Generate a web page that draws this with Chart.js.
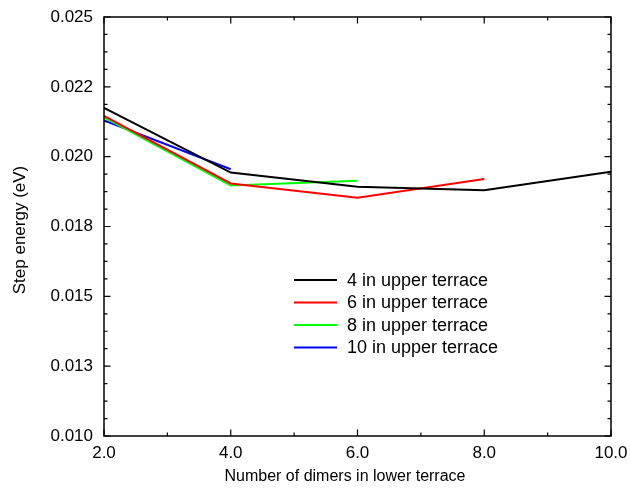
<!DOCTYPE html>
<html>
<head>
<meta charset="utf-8">
<script src="https://cdn.jsdelivr.net/npm/chart.js@4"></script>
<style>
  html, body { margin: 0; padding: 0; background: #fff; }
  #wrap { width: 630px; height: 488px; }
</style>
</head>
<body>
<div id="wrap"><canvas id="c" width="630" height="488"></canvas></div>
<script>
// ---- data ----
const dimers4 = [2, 4, 6, 8, 10];
const energy4 = [0.02175, 0.01943, 0.01892, 0.01880, 0.01946];
const dimers6 = [2, 4, 6, 8];
const energy6 = [0.02146, 0.01904, 0.01853, 0.01920];
const dimers8 = [2, 4, 6];
const energy8 = [0.02141, 0.01897, 0.01914];
const dimers10 = [2, 4];
const energy10 = [0.02130, 0.01955];
const seriesLabels = ["4 in upper terrace", "6 in upper terrace", "8 in upper terrace", "10 in upper terrace"];
const xTitle = "Number of dimers in lower terrace";
const yTitle = "Step energy (eV)";

const xTickValues = [2, 4, 6, 8, 10];
const xTickLabels = ["2.0", "4.0", "6.0", "8.0", "10.0"];
const xMinorValues = [3, 5, 7, 9];
const yTickValues = [0.0100, 0.0125, 0.0150, 0.0175, 0.0200, 0.0225, 0.0250];
const yTickLabels = ["0.010", "0.013", "0.015", "0.018", "0.020", "0.022", "0.025"];
const yMinorValues = [];
for (let i = 0; i < yTickValues.length - 1; i++) {
  for (let k = 1; k <= 3; k++) yMinorValues.push(yTickValues[i] + k * 0.000625);
}

const FONT = "'Liberation Sans', Arial, Helvetica, sans-serif";
const toPts = (xs, ys) => xs.map((x, i) => ({ x: x, y: ys[i] }));

const colors = ["#000000", "#ff0000", "#00ff00", "#0000ff"];
const seriesX = [dimers4, dimers6, dimers8, dimers10];
const seriesY = [energy4, energy6, energy8, energy10];

const frameAndTicks = {
  id: 'frameAndTicks',
  afterDatasetsDraw(chart) {
    const ctx = chart.ctx;
    const a = chart.chartArea;
    const xs = chart.scales.x, ys = chart.scales.y;
    ctx.save();
    ctx.strokeStyle = '#000';
    ctx.lineWidth = 1.5;
    ctx.strokeRect(a.left, a.top, a.right - a.left, a.bottom - a.top);
    ctx.lineWidth = 1.2;
    ctx.beginPath();
    const tickX = (v, len) => {
      const px = xs.getPixelForValue(v);
      ctx.moveTo(px, a.bottom); ctx.lineTo(px, a.bottom - len);
      ctx.moveTo(px, a.top); ctx.lineTo(px, a.top + len);
    };
    const tickY = (v, len) => {
      const py = ys.getPixelForValue(v);
      ctx.moveTo(a.left, py); ctx.lineTo(a.left + len, py);
      ctx.moveTo(a.right, py); ctx.lineTo(a.right - len, py);
    };
    xTickValues.forEach(v => tickX(v, 6.5));
    xMinorValues.forEach(v => tickX(v, 3.5));
    yTickValues.forEach(v => tickY(v, 6.5));
    yMinorValues.forEach(v => tickY(v, 3.5));
    ctx.stroke();

    // x-axis title
    ctx.fillStyle = '#000';
    ctx.font = "16px " + FONT;
    ctx.textAlign = 'center';
    ctx.textBaseline = 'middle';
    ctx.fillText(xTitle, a.left + 241, 477);

    // y-axis title
    ctx.save();
    ctx.translate(20, a.top + 213);
    ctx.rotate(-Math.PI / 2);
    ctx.font = "17px " + FONT;
    ctx.fillText(yTitle, 0, 0);
    ctx.restore();

    // legend inside the plot area
    ctx.font = "18px " + FONT;
    ctx.textBaseline = 'middle';
    ctx.textAlign = 'left';
    chart.data.datasets.forEach((ds, i) => {
      const y = a.top + 263 + i * 22.5;
      ctx.strokeStyle = ds.borderColor;
      ctx.lineWidth = 2;
      ctx.beginPath();
      ctx.moveTo(a.left + 190, y);
      ctx.lineTo(a.left + 233, y);
      ctx.stroke();
      ctx.fillStyle = '#000';
      ctx.fillText(ds.label, a.left + 243, y + 1);
    });
    ctx.restore();
  }
};

new Chart(document.getElementById('c'), {
  type: 'line',
  data: {
    datasets: seriesLabels.map((lab, i) => ({
      label: lab,
      data: toPts(seriesX[i], seriesY[i]),
      borderColor: colors[i],
      backgroundColor: colors[i],
      borderWidth: 2,
      pointRadius: 0,
      tension: 0,
      fill: false
    }))
  },
  options: {
    responsive: false,
    animation: false,
    devicePixelRatio: 1,
    layout: { padding: { top: 17, right: 19, left: 0, bottom: 0 } },
    plugins: { legend: { display: false }, tooltip: { enabled: false } },
    scales: {
      x: {
        type: 'linear',
        min: 2, max: 10,
        afterBuildTicks: s => { s.ticks = xTickValues.map(v => ({ value: v })); },
        afterFit: s => { s.height = 52; s.paddingLeft = 0; s.paddingRight = 0; },
        grid: { display: false, drawTicks: false },
        border: { display: false },
        ticks: {
          padding: 7,
          maxRotation: 0,
          autoSkip: false,
          color: '#000',
          font: { family: FONT, size: 17 },
          callback: (v) => xTickLabels[xTickValues.indexOf(v)]
        },
        title: { display: false }
      },
      y: {
        type: 'linear',
        min: 0.010, max: 0.025,
        afterBuildTicks: s => { s.ticks = yTickValues.map(v => ({ value: v })); },
        afterFit: s => { s.width = 104; s.paddingTop = 0; s.paddingBottom = 0; },
        grid: { display: false, drawTicks: false },
        border: { display: false },
        ticks: {
          padding: 11,
          autoSkip: false,
          color: '#000',
          font: { family: FONT, size: 17 },
          callback: (v) => yTickLabels[yTickValues.indexOf(v)]
        },
        title: { display: false }
      }
    }
  },
  plugins: [frameAndTicks]
});
</script>
</body>
</html>
